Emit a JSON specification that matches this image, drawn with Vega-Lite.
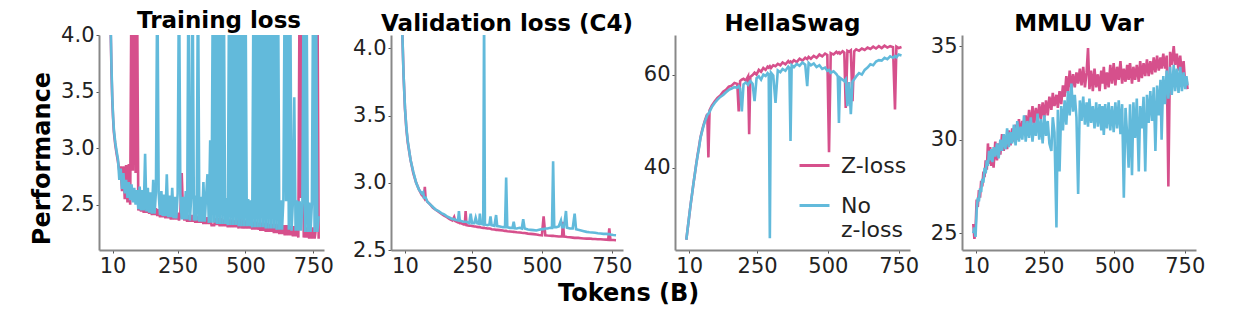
{
"$schema": "https://vega.github.io/schema/vega-lite/v6.json",
"background": "white",
"padding": {"left": 30, "top": 10, "right": 5, "bottom": 5},
"datasets": {
"tl": [
{"x":0,"a":4.6,"b":4.6},{"x":3,"a":4.05,"b":4.1},{"x":6,"a":3.68,"b":3.72},{"x":9,"a":3.42,"b":3.45},{"x":12,"a":3.26,"b":3.28},{"x":15,"a":3.14,"b":3.16},{"x":20,"a":3.03,"b":3.05},{"x":25,"a":2.95,"b":2.97},{"x":30,"a":2.88,"b":2.9},{"x":35,"a":2.8,"b":2.72},{"x":40,"a":2.84,"b":2.82},{"x":45,"a":2.62,"b":2.64},{"x":50,"a":2.84,"b":2.78},{"x":55,"a":2.55,"b":2.6},{"x":60,"a":2.85,"b":2.72},{"x":65,"a":2.52,"b":2.56},{"x":70,"a":2.86,"b":2.7},{"x":75,"a":2.5,"b":2.54},{"x":80,"a":4.6,"b":2.68},{"x":85,"a":2.8,"b":2.52},{"x":90,"a":4.6,"b":2.65},{"x":95,"a":2.78,"b":2.5},{"x":100,"a":4.6,"b":2.63},
{"x":105,"a":2.45,"b":2.46},{"x":110,"a":2.5,"b":2.66},{"x":115,"a":2.44,"b":2.45},{"x":120,"a":2.5,"b":2.63},{"x":125,"a":2.43,"b":2.45},{"x":130,"a":2.5,"b":2.95},{"x":135,"a":2.43,"b":2.44},{"x":140,"a":2.49,"b":2.65},{"x":145,"a":2.42,"b":2.43},{"x":150,"a":2.48,"b":2.61},{"x":155,"a":2.41,"b":2.42},{"x":160,"a":2.47,"b":2.72},{"x":165,"a":2.41,"b":2.42},{"x":170,"a":2.47,"b":2.62},{"x":175,"a":2.4,"b":4.6},{"x":180,"a":2.46,"b":2.6},{"x":185,"a":2.39,"b":2.41},{"x":190,"a":2.46,"b":2.62},{"x":195,"a":2.39,"b":2.4},{"x":200,"a":2.45,"b":2.59},
{"x":205,"a":2.38,"b":2.4},{"x":210,"a":2.45,"b":2.77},{"x":215,"a":2.38,"b":2.39},{"x":220,"a":2.44,"b":2.58},{"x":225,"a":2.37,"b":2.39},{"x":230,"a":2.44,"b":2.65},{"x":235,"a":2.37,"b":2.38},{"x":240,"a":2.43,"b":2.57},{"x":245,"a":2.37,"b":2.38},{"x":250,"a":2.43,"b":2.6},{"x":255,"a":2.36,"b":4.6},{"x":260,"a":2.42,"b":2.58},{"x":265,"a":2.78,"b":2.37},{"x":270,"a":2.42,"b":2.57},{"x":275,"a":2.36,"b":2.37},{"x":280,"a":2.42,"b":2.62},{"x":285,"a":2.35,"b":2.37},{"x":290,"a":2.41,"b":4.6},{"x":295,"a":2.35,"b":2.36},{"x":300,"a":2.41,"b":2.56},
{"x":305,"a":2.35,"b":4.6},{"x":310,"a":2.41,"b":2.36},{"x":315,"a":2.34,"b":2.58},{"x":320,"a":2.4,"b":2.36},{"x":325,"a":2.34,"b":4.6},{"x":330,"a":2.4,"b":2.35},{"x":335,"a":2.34,"b":2.57},{"x":340,"a":2.4,"b":2.35},{"x":345,"a":2.33,"b":2.7},{"x":350,"a":2.39,"b":2.35},{"x":355,"a":2.33,"b":2.58},{"x":360,"a":2.39,"b":2.77},{"x":365,"a":2.33,"b":2.34},{"x":370,"a":2.39,"b":3.07},{"x":375,"a":2.32,"b":2.34},{"x":380,"a":2.32,"b":4.6},{"x":385,"a":2.32,"b":2.34},{"x":390,"a":2.38,"b":4.6},{"x":395,"a":2.32,"b":2.33},{"x":400,"a":2.38,"b":4.6},
{"x":405,"a":2.31,"b":2.33},{"x":410,"a":2.38,"b":4.6},{"x":415,"a":2.31,"b":2.33},{"x":420,"a":2.37,"b":4.6},{"x":425,"a":2.31,"b":2.33},{"x":430,"a":2.37,"b":2.56},{"x":435,"a":2.3,"b":2.32},{"x":440,"a":2.37,"b":4.6},{"x":445,"a":2.3,"b":2.32},{"x":450,"a":2.37,"b":4.6},{"x":455,"a":2.3,"b":2.32},{"x":460,"a":2.36,"b":4.6},{"x":465,"a":2.3,"b":2.32},{"x":470,"a":2.36,"b":4.6},{"x":475,"a":2.29,"b":2.31},{"x":480,"a":4.6,"b":4.6},{"x":485,"a":2.29,"b":2.31},{"x":490,"a":2.36,"b":4.6},{"x":495,"a":2.29,"b":2.31},{"x":500,"a":2.36,"b":4.6},
{"x":505,"a":2.29,"b":2.31},{"x":510,"a":2.35,"b":2.55},{"x":515,"a":2.29,"b":2.31},{"x":520,"a":2.35,"b":2.54},{"x":525,"a":2.28,"b":2.3},{"x":530,"a":2.35,"b":4.6},{"x":535,"a":2.28,"b":2.3},{"x":540,"a":2.35,"b":4.6},{"x":545,"a":2.28,"b":2.3},{"x":550,"a":2.34,"b":4.6},{"x":555,"a":2.27,"b":2.3},{"x":560,"a":2.34,"b":4.6},{"x":565,"a":2.27,"b":2.3},{"x":570,"a":2.34,"b":4.6},{"x":575,"a":2.26,"b":2.29},{"x":580,"a":2.34,"b":4.6},{"x":585,"a":2.26,"b":2.29},{"x":590,"a":2.33,"b":4.6},{"x":595,"a":2.26,"b":2.29},{"x":600,"a":2.33,"b":4.6},
{"x":605,"a":2.25,"b":2.29},{"x":610,"a":2.33,"b":4.6},{"x":615,"a":2.25,"b":2.28},{"x":620,"a":2.33,"b":4.6},{"x":625,"a":2.24,"b":2.28},{"x":630,"a":2.32,"b":2.54},{"x":635,"a":2.24,"b":2.28},{"x":640,"a":2.32,"b":2.55},{"x":645,"a":2.23,"b":4.6},{"x":650,"a":2.32,"b":2.53},{"x":655,"a":2.23,"b":4.6},{"x":660,"a":2.32,"b":2.28},{"x":665,"a":2.23,"b":4.6},{"x":670,"a":2.31,"b":2.27},{"x":675,"a":2.22,"b":2.53},{"x":680,"a":2.31,"b":3.45},{"x":685,"a":2.22,"b":2.27},{"x":690,"a":2.31,"b":2.54},{"x":695,"a":2.21,"b":2.27},{"x":700,"a":4.6,"b":2.53},
{"x":705,"a":2.56,"b":2.27},{"x":710,"a":4.6,"b":2.52},{"x":715,"a":2.21,"b":4.6},{"x":720,"a":2.3,"b":2.26},{"x":725,"a":2.21,"b":4.6},{"x":730,"a":2.3,"b":2.26},{"x":735,"a":2.2,"b":2.52},{"x":740,"a":2.3,"b":2.26},{"x":745,"a":2.2,"b":2.51},{"x":750,"a":2.3,"b":4.6},{"x":755,"a":2.2,"b":2.26},{"x":760,"a":2.29,"b":4.6},{"x":765,"a":4.6,"b":2.26},{"x":770,"a":2.2,"b":2.4}
],
"vl": [
{"x":0,"a":4.15,"b":4.15},{"x":5,"a":3.8,"b":3.8},{"x":10,"a":3.55,"b":3.56},{"x":15,"a":3.4,"b":3.41},{"x":20,"a":3.3,"b":3.31},{"x":30,"a":3.17,"b":3.17},{"x":40,"a":3.07,"b":3.08},{"x":50,"a":3.0,"b":3.0},{"x":60,"a":2.95,"b":2.95},{"x":70,"a":2.91,"b":2.92},{"x":75,"a":2.9,"b":2.93},{"x":78,"a":2.89,"b":2.89},{"x":81,"a":2.97,"b":2.89},{"x":84,"a":2.88,"b":2.89},{"x":90,"a":2.86,"b":2.86},{"x":100,"a":2.84,"b":2.84},{"x":110,"a":2.815,"b":2.82},{"x":120,"a":2.8,"b":2.8},{"x":130,"a":2.785,"b":2.79},{"x":140,"a":2.77,"b":2.775},
{"x":150,"a":2.755,"b":2.765},{"x":160,"a":2.745,"b":2.75},{"x":170,"a":2.73,"b":2.74},{"x":180,"a":2.72,"b":2.73},{"x":186,"a":2.745,"b":2.73},{"x":190,"a":2.715,"b":2.725},{"x":200,"a":2.705,"b":2.72},{"x":203,"a":2.705,"b":2.79},{"x":206,"a":2.7,"b":2.72},{"x":210,"a":2.7,"b":2.715},{"x":220,"a":2.69,"b":2.71},{"x":224,"a":2.69,"b":2.71},{"x":227,"a":2.79,"b":2.71},{"x":230,"a":2.685,"b":2.71},{"x":240,"a":2.68,"b":2.7},{"x":245,"a":2.68,"b":2.77},{"x":250,"a":2.678,"b":2.7},{"x":258,"a":2.675,"b":2.7},{"x":263,"a":2.675,"b":2.74},{"x":268,"a":2.672,"b":2.7},
{"x":275,"a":2.67,"b":2.695},{"x":278,"a":2.67,"b":2.77},{"x":282,"a":2.668,"b":2.695},{"x":290,"a":2.665,"b":2.69},{"x":293,"a":2.665,"b":4.3},{"x":296,"a":2.663,"b":2.69},{"x":305,"a":2.66,"b":2.685},{"x":312,"a":2.66,"b":2.69},{"x":316,"a":2.658,"b":2.75},{"x":320,"a":2.655,"b":2.685},{"x":330,"a":2.652,"b":2.68},{"x":336,"a":2.65,"b":2.76},{"x":340,"a":2.65,"b":2.678},{"x":350,"a":2.648,"b":2.675},{"x":360,"a":2.645,"b":2.67},{"x":368,"a":2.642,"b":2.67},{"x":372,"a":2.642,"b":3.04},{"x":376,"a":2.64,"b":2.67},{"x":385,"a":2.638,"b":2.665},{"x":395,"a":2.636,"b":2.665},
{"x":399,"a":2.635,"b":2.71},{"x":403,"a":2.634,"b":2.662},{"x":410,"a":2.632,"b":2.66},{"x":420,"a":2.63,"b":2.665},{"x":428,"a":2.628,"b":2.66},{"x":433,"a":2.627,"b":2.73},{"x":438,"a":2.626,"b":2.66},{"x":450,"a":2.622,"b":2.652},{"x":460,"a":2.62,"b":2.65},{"x":470,"a":2.618,"b":2.648},{"x":480,"a":2.615,"b":2.645},{"x":490,"a":2.612,"b":2.65},{"x":500,"a":2.61,"b":2.655},{"x":506,"a":2.75,"b":2.655},{"x":512,"a":2.61,"b":2.66},{"x":520,"a":2.608,"b":2.66},{"x":530,"a":2.606,"b":2.665},{"x":536,"a":2.605,"b":2.665},{"x":540,"a":2.605,"b":3.16},{"x":544,"a":2.604,"b":2.67},
{"x":552,"a":2.602,"b":2.67},{"x":560,"a":2.6,"b":2.675},{"x":568,"a":2.6,"b":2.72},{"x":572,"a":2.6,"b":2.67},{"x":575,"a":2.71,"b":2.67},{"x":579,"a":2.6,"b":2.67},{"x":586,"a":2.598,"b":2.79},{"x":590,"a":2.597,"b":2.665},{"x":600,"a":2.595,"b":2.66},{"x":610,"a":2.592,"b":2.66},{"x":617,"a":2.59,"b":2.77},{"x":622,"a":2.59,"b":2.655},{"x":630,"a":2.59,"b":2.65},{"x":640,"a":2.588,"b":2.645},{"x":650,"a":2.586,"b":2.64},{"x":660,"a":2.585,"b":2.635},{"x":670,"a":2.585,"b":2.632},{"x":680,"a":2.583,"b":2.63},{"x":690,"a":2.582,"b":2.628},{"x":700,"a":2.58,"b":2.625},
{"x":710,"a":2.58,"b":2.623},{"x":720,"a":2.578,"b":2.62},{"x":730,"a":2.577,"b":2.62},{"x":737,"a":2.576,"b":2.618},{"x":741,"a":2.66,"b":2.618},{"x":745,"a":2.575,"b":2.615},{"x":755,"a":2.574,"b":2.612},{"x":765,"a":2.573,"b":2.61}
],
"hs": [
{"x":0,"a":24.5,"b":24.5},{"x":5,"a":27.0,"b":27.0},{"x":10,"a":29.5,"b":29.5},{"x":15,"a":32.0,"b":32.0},{"x":20,"a":34.2,"b":34.2},{"x":25,"a":36.5,"b":36.5},{"x":30,"a":38.6,"b":38.6},{"x":35,"a":40.8,"b":40.7},{"x":40,"a":42.8,"b":42.6},{"x":45,"a":44.6,"b":44.3},{"x":50,"a":46.5,"b":46.4},{"x":55,"a":47.8,"b":47.6},{"x":60,"a":49.0,"b":48.8},{"x":65,"a":50.0,"b":49.8},{"x":70,"a":50.9,"b":50.6},{"x":74,"a":51.5,"b":51.3},{"x":78,"a":42.2,"b":51.6},{"x":82,"a":52.3,"b":52.0},{"x":90,"a":53.3,"b":53.0},{"x":100,"a":54.2,"b":53.9},
{"x":110,"a":55.0,"b":54.6},{"x":120,"a":55.5,"b":55.2},{"x":130,"a":56.3,"b":55.6},{"x":140,"a":56.7,"b":56.2},{"x":150,"a":57.4,"b":56.7},{"x":160,"a":57.6,"b":57.0},{"x":170,"a":58.2,"b":57.3},{"x":180,"a":58.0,"b":57.2},{"x":185,"a":52.1,"b":57.5},{"x":190,"a":58.6,"b":57.0},{"x":196,"a":58.9,"b":52.1},{"x":202,"a":59.1,"b":57.9},{"x":210,"a":58.7,"b":58.3},{"x":218,"a":59.6,"b":57.8},{"x":222,"a":47.2,"b":58.3},{"x":226,"a":59.5,"b":58.6},{"x":234,"a":59.9,"b":58.0},{"x":241,"a":60.4,"b":54.3},{"x":248,"a":60.0,"b":59.2},{"x":256,"a":61.0,"b":59.6},
{"x":264,"a":60.6,"b":58.9},{"x":272,"a":61.4,"b":60.0},{"x":280,"a":61.0,"b":59.7},{"x":287,"a":61.7,"b":60.3},{"x":291,"a":61.5,"b":60.0},{"x":295,"a":61.8,"b":24.8},{"x":299,"a":61.4,"b":60.4},{"x":307,"a":62.0,"b":59.8},{"x":315,"a":61.8,"b":53.9},{"x":323,"a":62.3,"b":60.9},{"x":332,"a":62.0,"b":60.5},{"x":340,"a":62.6,"b":61.2},{"x":350,"a":62.2,"b":60.8},{"x":360,"a":62.9,"b":61.7},{"x":364,"a":62.6,"b":61.4},{"x":368,"a":62.8,"b":45.7},{"x":372,"a":62.5,"b":62.0},{"x":380,"a":63.1,"b":61.6},{"x":390,"a":62.7,"b":62.3},{"x":400,"a":63.4,"b":61.9},
{"x":410,"a":63.0,"b":62.6},{"x":420,"a":63.6,"b":62.1},{"x":427,"a":63.3,"b":57.5},{"x":432,"a":63.8,"b":62.5},{"x":440,"a":63.4,"b":62.0},{"x":450,"a":64.0,"b":62.4},{"x":460,"a":63.6,"b":61.6},{"x":470,"a":64.3,"b":62.0},{"x":480,"a":63.9,"b":61.2},{"x":490,"a":64.5,"b":61.5},{"x":498,"a":64.2,"b":60.8},{"x":504,"a":43.3,"b":61.0},{"x":510,"a":64.6,"b":60.4},{"x":520,"a":64.3,"b":60.7},{"x":530,"a":64.9,"b":60.1},{"x":535,"a":64.6,"b":59.6},{"x":539,"a":64.8,"b":49.6},{"x":543,"a":64.5,"b":59.3},{"x":552,"a":65.0,"b":58.9},{"x":558,"a":64.7,"b":58.6},
{"x":563,"a":52.8,"b":59.0},{"x":569,"a":65.1,"b":53.2},{"x":575,"a":64.9,"b":58.4},{"x":581,"a":65.2,"b":51.5},{"x":587,"a":54.3,"b":58.5},{"x":593,"a":65.0,"b":59.0},{"x":600,"a":65.4,"b":59.6},{"x":610,"a":65.1,"b":60.3},{"x":620,"a":65.6,"b":60.0},{"x":630,"a":65.3,"b":61.0},{"x":640,"a":65.8,"b":61.5},{"x":650,"a":65.5,"b":62.2},{"x":660,"a":66.0,"b":62.0},{"x":670,"a":65.6,"b":62.8},{"x":680,"a":66.1,"b":63.1},{"x":690,"a":65.7,"b":63.0},{"x":700,"a":66.2,"b":63.6},{"x":710,"a":65.8,"b":63.3},{"x":720,"a":66.1,"b":63.9},{"x":730,"a":65.9,"b":63.6},
{"x":737,"a":52.5,"b":64.0},{"x":742,"a":66.0,"b":63.7},{"x":750,"a":65.7,"b":64.3},{"x":760,"a":65.9,"b":64.1}
],
"mm": [
{"x":0,"a":25.5,"b":25.0},{"x":4,"a":24.7,"b":25.3},{"x":8,"a":25.2,"b":24.8},{"x":12,"a":26.8,"b":26.2},{"x":16,"a":26.4,"b":26.9},{"x":20,"a":27.3,"b":26.7},{"x":24,"a":26.9,"b":27.4},{"x":28,"a":27.8,"b":27.2},{"x":32,"a":27.5,"b":27.9},{"x":36,"a":28.3,"b":27.7},{"x":40,"a":28.0,"b":28.5},{"x":44,"a":28.9,"b":28.2},{"x":48,"a":28.4,"b":28.9},{"x":52,"a":29.8,"b":28.6},{"x":56,"a":28.7,"b":29.4},{"x":60,"a":29.6,"b":28.9},{"x":64,"a":28.6,"b":29.5},{"x":68,"a":29.2,"b":28.8},{"x":72,"a":28.5,"b":29.6},{"x":78,"a":29.9,"b":29.1},
{"x":84,"a":28.9,"b":29.8},{"x":90,"a":29.8,"b":29.0},{"x":96,"a":29.2,"b":30.0},{"x":102,"a":30.3,"b":29.4},{"x":108,"a":29.4,"b":30.3},{"x":114,"a":30.1,"b":29.5},{"x":120,"a":29.5,"b":30.6},{"x":126,"a":30.5,"b":29.6},{"x":132,"a":29.7,"b":30.4},{"x":138,"a":30.6,"b":29.8},{"x":144,"a":29.9,"b":30.8},{"x":150,"a":30.8,"b":29.7},{"x":156,"a":30.0,"b":31.0},{"x":162,"a":31.1,"b":29.9},{"x":168,"a":30.2,"b":30.7},{"x":174,"a":31.0,"b":30.0},{"x":180,"a":30.3,"b":31.3},{"x":186,"a":31.3,"b":29.9},{"x":192,"a":30.5,"b":31.0},{"x":198,"a":31.6,"b":30.1},
{"x":204,"a":30.6,"b":31.2},{"x":210,"a":31.8,"b":29.9},{"x":216,"a":30.8,"b":30.9},{"x":222,"a":31.7,"b":30.2},{"x":228,"a":30.9,"b":31.4},{"x":234,"a":31.9,"b":30.0},{"x":240,"a":31.1,"b":31.1},{"x":246,"a":32.0,"b":29.8},{"x":252,"a":31.2,"b":31.3},{"x":258,"a":32.1,"b":30.2},{"x":264,"a":31.3,"b":31.0},{"x":270,"a":32.3,"b":29.8},{"x":277,"a":31.6,"b":29.4},{"x":282,"a":32.5,"b":31.2},{"x":288,"a":31.8,"b":30.4},{"x":295,"a":32.4,"b":25.3},{"x":300,"a":31.7,"b":31.6},{"x":306,"a":32.6,"b":28.3},{"x":312,"a":31.9,"b":31.8},{"x":318,"a":32.9,"b":30.5},
{"x":324,"a":32.3,"b":32.1},{"x":330,"a":33.4,"b":30.8},{"x":336,"a":32.5,"b":32.6},{"x":342,"a":33.7,"b":31.3},{"x":348,"a":32.7,"b":33.0},{"x":354,"a":33.5,"b":31.5},{"x":360,"a":32.8,"b":32.4},{"x":366,"a":33.6,"b":31.2},{"x":372,"a":33.0,"b":27.1},{"x":378,"a":33.8,"b":32.1},{"x":384,"a":32.9,"b":31.0},{"x":390,"a":33.9,"b":32.3},{"x":396,"a":32.8,"b":30.8},{"x":402,"a":33.6,"b":32.0},{"x":407,"a":34.9,"b":30.7},{"x":412,"a":32.7,"b":32.2},{"x":418,"a":33.7,"b":30.9},{"x":424,"a":32.6,"b":31.8},{"x":430,"a":33.8,"b":30.6},{"x":436,"a":32.8,"b":32.0},
{"x":442,"a":33.5,"b":30.7},{"x":448,"a":32.6,"b":31.9},{"x":454,"a":33.7,"b":30.5},{"x":458,"a":33.0,"b":31.8},{"x":463,"a":33.9,"b":30.25},{"x":468,"a":32.7,"b":31.9},{"x":474,"a":33.6,"b":30.6},{"x":480,"a":32.8,"b":32.0},{"x":486,"a":34.0,"b":30.5},{"x":492,"a":33.0,"b":31.8},{"x":498,"a":34.1,"b":30.4},{"x":504,"a":32.9,"b":32.0},{"x":510,"a":33.9,"b":30.6},{"x":516,"a":33.2,"b":32.1},{"x":522,"a":34.2,"b":30.3},{"x":528,"a":33.0,"b":31.9},{"x":534,"a":33.8,"b":26.9},{"x":540,"a":33.1,"b":31.7},{"x":546,"a":34.0,"b":30.2},{"x":551,"a":33.2,"b":28.5},
{"x":556,"a":34.1,"b":31.9},{"x":563,"a":33.0,"b":28.1},{"x":568,"a":33.9,"b":32.0},{"x":574,"a":33.2,"b":30.1},{"x":580,"a":34.0,"b":32.2},{"x":587,"a":33.1,"b":28.3},{"x":592,"a":34.2,"b":31.8},{"x":598,"a":33.3,"b":30.6},{"x":604,"a":34.1,"b":32.3},{"x":610,"a":33.4,"b":28.3},{"x":616,"a":34.3,"b":32.4},{"x":622,"a":33.4,"b":30.9},{"x":628,"a":34.2,"b":32.6},{"x":634,"a":33.5,"b":31.0},{"x":640,"a":34.4,"b":32.8},{"x":646,"a":33.6,"b":29.4},{"x":652,"a":34.5,"b":32.9},{"x":658,"a":33.7,"b":31.3},{"x":664,"a":34.4,"b":33.2},{"x":668,"a":33.8,"b":30.0},
{"x":674,"a":34.6,"b":33.4},{"x":680,"a":33.8,"b":31.9},{"x":686,"a":34.5,"b":33.7},{"x":692,"a":27.5,"b":32.2},{"x":698,"a":34.7,"b":33.9},{"x":704,"a":34.0,"b":32.4},{"x":711,"a":35.0,"b":34.0},{"x":716,"a":34.0,"b":32.6},{"x":722,"a":34.6,"b":33.8},{"x":728,"a":33.7,"b":32.5},{"x":734,"a":34.5,"b":33.9},{"x":740,"a":33.4,"b":32.6},{"x":746,"a":34.2,"b":33.6},{"x":752,"a":32.9,"b":32.7},{"x":756,"a":33.3,"b":33.4},{"x":760,"a":32.7,"b":32.9}
]
},
"title": {"text": "Tokens (B)", "orient": "bottom", "anchor": "middle", "fontSize": 24, "fontWeight": "bold", "color": "#000", "offset": 6, "dx": 11},
"spacing": 52,
"bounds": "flush",
"resolve": {"scale": {"color": "independent", "x": "independent", "y": "independent"}, "legend": {"color": "independent"}},
"hconcat": [
{
"width": 240, "height": 215,
"title": {"text": "Training loss", "fontSize": 23, "fontWeight": "bold", "color": "#000", "offset": -9, "frame": "group"},
"data": {"name": "tl"},
"transform": [{"fold": ["a", "b"], "as": ["s", "v"]}],
"mark": {"type": "line", "strokeWidth": 2.6, "clip": true},
"encoding": {
"x": {"field": "x", "type": "quantitative", "scale": {"domain": [-40, 845], "nice": false, "zero": false}, "axis": {"values": [10, 250, 500, 750], "title": null, "domainDash": [225, 100]}},
"y": {"field": "v", "type": "quantitative", "scale": {"domain": [2.1, 4.0], "nice": false, "zero": false}, "axis": {"values": [2.5, 3.0, 3.5, 4.0], "format": ".1f", "title": "Performance", "titleFontSize": 24, "titlePadding": 6, "titleY": 123}},
"color": {"field": "s", "type": "nominal", "scale": {"domain": ["a", "b"], "range": ["#d6508c", "#62badb"]}, "legend": null}
}
},
{
"width": 232, "height": 215,
"title": {"text": "Validation loss (C4)", "fontSize": 23, "fontWeight": "bold", "color": "#000", "offset": -1, "frame": "group"},
"data": {"name": "vl"},
"transform": [{"fold": ["a", "b"], "as": ["s", "v"]}],
"mark": {"type": "line", "strokeWidth": 2.6, "clip": true},
"encoding": {
"x": {"field": "x", "type": "quantitative", "scale": {"domain": [-40, 790], "nice": false, "zero": false}, "axis": {"values": [10, 250, 500, 750], "title": null}},
"y": {"field": "v", "type": "quantitative", "scale": {"domain": [2.5, 4.1], "nice": false, "zero": false}, "axis": {"values": [2.5, 3.0, 3.5, 4.0], "format": ".1f", "title": null}},
"color": {"field": "s", "type": "nominal", "scale": {"domain": ["a", "b"], "range": ["#d6508c", "#62badb"]}, "legend": null}
}
},
{
"width": 235, "height": 215,
"title": {"text": "HellaSwag", "fontSize": 23, "fontWeight": "bold", "color": "#000", "offset": -1, "frame": "group"},
"data": {"name": "hs"},
"transform": [{"fold": ["a", "b"], "as": ["s", "v"]}],
"mark": {"type": "line", "strokeWidth": 2.6, "clip": true},
"encoding": {
"x": {"field": "x", "type": "quantitative", "scale": {"domain": [-40, 790], "nice": false, "zero": false}, "axis": {"values": [10, 250, 500, 750], "title": null}},
"y": {"field": "v", "type": "quantitative", "scale": {"domain": [22.3, 68.5], "nice": false, "zero": false}, "axis": {"values": [40, 60], "format": "d", "title": null}},
"color": {"field": "s", "type": "nominal", "scale": {"domain": ["a", "b"], "range": ["#d6508c", "#62badb"]},
"legend": {"title": null, "orient": "none", "legendX": 123, "legendY": 114, "symbolType": "stroke", "symbolStrokeWidth": 3, "symbolSize": 900, "labelFontSize": 22, "labelColor": "#222", "labelLineHeight": 24, "rowPadding": 12, "labelOffset": 10, "labelExpr": "datum.value == 'a' ? 'Z-loss' : ['No', 'z-loss']"}}
}
},
{
"width": 234, "height": 215,
"title": {"text": "MMLU Var", "fontSize": 23, "fontWeight": "bold", "color": "#000", "offset": -1, "frame": "group"},
"data": {"name": "mm"},
"transform": [{"fold": ["a", "b"], "as": ["s", "v"]}],
"mark": {"type": "line", "strokeWidth": 2.6, "clip": true},
"encoding": {
"x": {"field": "x", "type": "quantitative", "scale": {"domain": [-40, 790], "nice": false, "zero": false}, "axis": {"values": [10, 250, 500, 750], "title": null}},
"y": {"field": "v", "type": "quantitative", "scale": {"domain": [24.1, 35.6], "nice": false, "zero": false}, "axis": {"values": [25, 30, 35], "format": "d", "title": null}},
"color": {"field": "s", "type": "nominal", "scale": {"domain": ["a", "b"], "range": ["#d6508c", "#62badb"]}, "legend": null}
}
}
],
"config": {
"view": {"stroke": null},
"font": "DejaVu Sans",
"axis": {"grid": false, "ticks": true, "tickSize": 3, "tickColor": "#555", "domainColor": "#888", "domainWidth": 2, "labelFontSize": 21, "labelColor": "#222", "labelPadding": 2, "titleFontWeight": "bold", "titleColor": "#000"}
}
}
